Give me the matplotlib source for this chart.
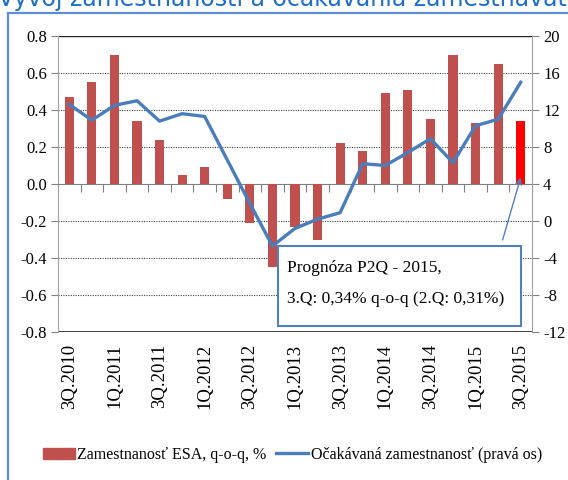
import numpy as np
import matplotlib
matplotlib.use("Agg")
import matplotlib.pyplot as plt
from matplotlib.patches import Rectangle

# quarters 3Q.2010 - 3Q.2015
quarters = ["3Q.2010", "4Q.2010",
            "1Q.2011", "2Q.2011", "3Q.2011", "4Q.2011",
            "1Q.2012", "2Q.2012", "3Q.2012", "4Q.2012",
            "1Q.2013", "2Q.2013", "3Q.2013", "4Q.2013",
            "1Q.2014", "2Q.2014", "3Q.2014", "4Q.2014",
            "1Q.2015", "2Q.2015", "3Q.2015"]
# zamestnanost ESA, q-o-q, % (lava os)
esa = [0.47, 0.55, 0.70, 0.34, 0.24, 0.05, 0.09, -0.08, -0.21, -0.45,
       -0.23, -0.30, 0.22, 0.18, 0.49, 0.51, 0.35, 0.70, 0.33, 0.65, 0.34]
# ocakavana zamestnanost (prava os)
expect = [12.6, 10.9, 12.5, 13.0, 10.8, 11.6, 11.3, 6.6, 1.9, -2.7,
          -0.8, 0.2, 0.9, 6.2, 6.0, 7.4, 8.9, 6.3, 10.3, 11.0, 15.0]

left_ticks = [-0.8, -0.6, -0.4, -0.2, 0.0, 0.2, 0.4, 0.6, 0.8]
right_ticks = [-12, -8, -4, 0, 4, 8, 12, 16, 20]

serif = "Liberation Serif"
bar_col = "#C0504D"
line_col = "#4A7EBB"

fig = plt.figure(figsize=(5.68, 4.8), dpi=100)
ax = fig.add_axes([0.1021, 0.3083, 0.8345, 0.6167])
x = np.arange(len(quarters))

#bars, last one (forecast) in bright red
cols = [bar_col] * (len(esa) - 1) + ["#FF0000"]
ax.bar(x, esa, width=0.4, color=cols, zorder=3, label="Zamestnanosť ESA, q-o-q, %")
ax.set_xlim(-0.5, len(quarters) - 0.5)
ax.set_ylim(-0.8, 0.8)
ax.set_yticks(left_ticks)
ax.set_yticklabels(["%.1f" % v for v in left_ticks], fontfamily=serif, fontsize=12)
ax.tick_params(axis="y", length=5, color="#808080", pad=3)

# dotted gridlines, solid top/bottom
for v in left_ticks[1:-1]:
    if v != 0:
        ax.axhline(v, color="#404040", lw=0.8, ls=(0, (1, 1.2)), zorder=1)
ax.axhline(0.8, color="#202020", lw=1.0, zorder=1)
ax.axhline(-0.8, color="#202020", lw=1.2, zorder=1)

ax.spines["top"].set_visible(False)
ax.spines["right"].set_visible(False)
ax.spines["left"].set_color("#A0A0A0")
ax.spines["bottom"].set_position(("data", 0))
ax.spines["bottom"].set_color("#808080")
ax.set_xticks(np.arange(-0.5, len(quarters), 1.0))
ax.set_xticklabels([])
ax.tick_params(axis="x", length=6, color="#808080", direction="out")

for i in range(0, len(quarters), 2):
    ax.text(i, -0.04, quarters[i], transform=ax.get_xaxis_transform(),
            rotation=90, ha="center", va="top", fontfamily=serif, fontsize=13.5)

ax2 = ax.twinx()
ax2.plot(x, expect, color=line_col, lw=2.4, zorder=4, label="Očakávaná zamestnanosť (pravá os)")
ax2.set_ylim(-12, 20)
ax2.set_yticks(right_ticks)
ax2.set_yticklabels([str(v) for v in right_ticks], fontfamily=serif, fontsize=12)
ax2.tick_params(axis="y", length=5, color="#808080", pad=3)
for s in ["top", "bottom", "left"]:
    ax2.spines[s].set_visible(False)
ax2.spines["right"].set_color("#A0A0A0")

# forecast box with arrow
box = Rectangle((0.464, 0.021), 0.512, 0.271, transform=ax2.transAxes,
                facecolor="white", edgecolor="#4F81BD", lw=1.5, zorder=6)
ax2.add_patch(box)
ax2.text(0.483, 0.215, "Prognóza P2Q - 2015,", transform=ax2.transAxes,
         ha="left", va="center", fontfamily=serif, fontsize=12.5, zorder=7)
ax2.text(0.483, 0.113, "3.Q: 0,34% q-o-q (2.Q: 0,31%)", transform=ax2.transAxes,
         ha="left", va="center", fontfamily=serif, fontsize=12.5, zorder=7)
ax.annotate("", xy=(20, 0.035), xytext=(0.938, 0.311), textcoords="axes fraction",
            arrowprops=dict(arrowstyle="->", color="#4F81BD", lw=1.0,
                            shrinkA=0, shrinkB=0), zorder=8)

# legend
h1, l1 = ax.get_legend_handles_labels()
h2, l2 = ax2.get_legend_handles_labels()
leg = fig.legend(h1 + h2, l1 + l2, loc="center", bbox_to_anchor=(0.515, 0.052),
                 ncol=2, frameon=False, handlelength=2.0, handletextpad=0.15,
                 columnspacing=0.6, prop={"family": serif, "size": 11.5})
leg.legend_handles[0].set_color(bar_col)

# title (cut off at top) and blue frame
fig.text(-0.004, 1 - 6 / 480, "Vývoj zamestnanosti a očakávania zamestnávateľov",
         ha="left", va="baseline", color="#1F6FC8", fontsize=17, fontfamily="DejaVu Sans")
frame = Rectangle((8 / 568, -0.1), 1.2, 1 - 13 / 480 + 0.1, transform=fig.transFigure,
                  facecolor="none", edgecolor="#5B8FD0", lw=1.6, clip_on=False)
fig.patches.append(frame)

fig.savefig("out.png", dpi=100)
